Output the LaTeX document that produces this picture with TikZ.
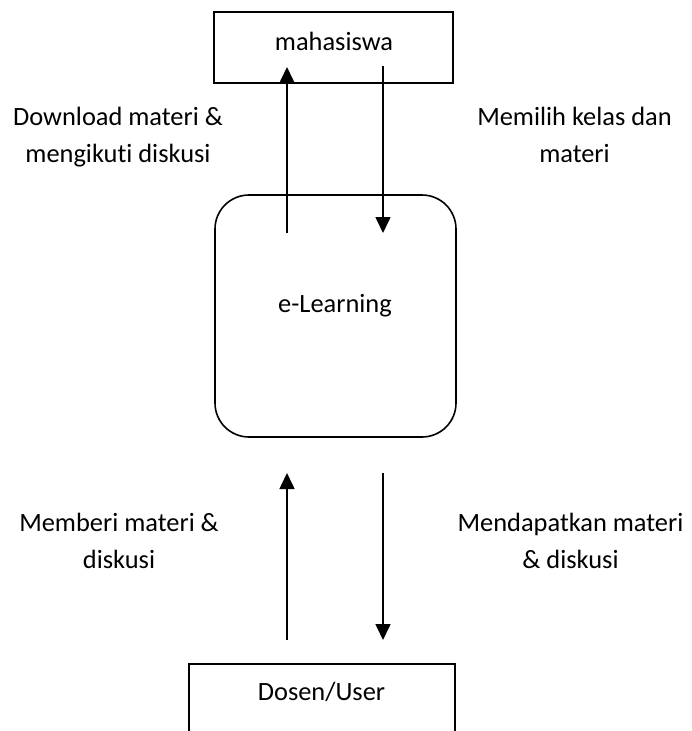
\documentclass[tikz,border=0pt]{standalone}
\usepackage{fontspec}
\setmainfont{Carlito}[Ligatures={NoCommon}]
\usetikzlibrary{arrows.meta,calc}
\begin{document}
\begin{tikzpicture}[x=1pt,y=-1pt,
  every node/.style={font=\fontsize{26.4}{37}\selectfont},
  boxline/.style={draw, line width=1.6pt, inner sep=0pt},
  flow/.style={line width=1.6pt, -{Triangle[length=16pt,width=15pt]}},
  lbl/.style={align=center, anchor=base, inner sep=0pt}]
\useasboundingbox (0,0) rectangle (692,731);
\clip (0,0) rectangle (692,731);
% boxes
\node[boxline, minimum width=239pt, minimum height=71pt] (mhs) at (333.5,47.5) {};
\node[anchor=base, inner sep=0pt] (mhstext) at (334,50) {mahasiswa};
\node[boxline, rounded corners=34pt, minimum width=241pt, minimum height=242pt] (elearn) at (335.5,316) {};
\node[anchor=base, inner sep=0pt] (eltext) at (335,312) {e-Learning};
\node[boxline, anchor=north, minimum width=266pt, minimum height=150pt] (dosen) at (322,663) {};
\node[anchor=base, inner sep=0pt] (dostext) at (321.5,700) {Dosen/User};
% arrow end points
\coordinate (a1s) at (287,233);
\coordinate (a1e) at (287,67);
\coordinate (a2s) at (383,66);
\coordinate (a2e) at (383,233);
\coordinate (b1s) at (287,640);
\coordinate (b1e) at (287,473);
\coordinate (b2s) at (383,473);
\coordinate (b2e) at (383,640);
\draw[flow] (a1s) -- (a1e);
\draw[flow] (a2s) -- (a2e);
\draw[flow] (b1s) -- (b1e);
\draw[flow] (b2s) -- (b2e);
% labels (anchor base = baseline of last line)
\node[lbl] (l1) at (118,162) {Download materi \&\\mengikuti diskusi};
\node[lbl] (l2) at (574.5,162) {Memilih kelas dan\\materi};
\node[lbl] (l3) at (119,568) {Memberi materi \&\\diskusi};
\node[lbl] (l4) at (570.5,568) {Mendapatkan materi\\\& diskusi};
\end{tikzpicture}
\end{document}
